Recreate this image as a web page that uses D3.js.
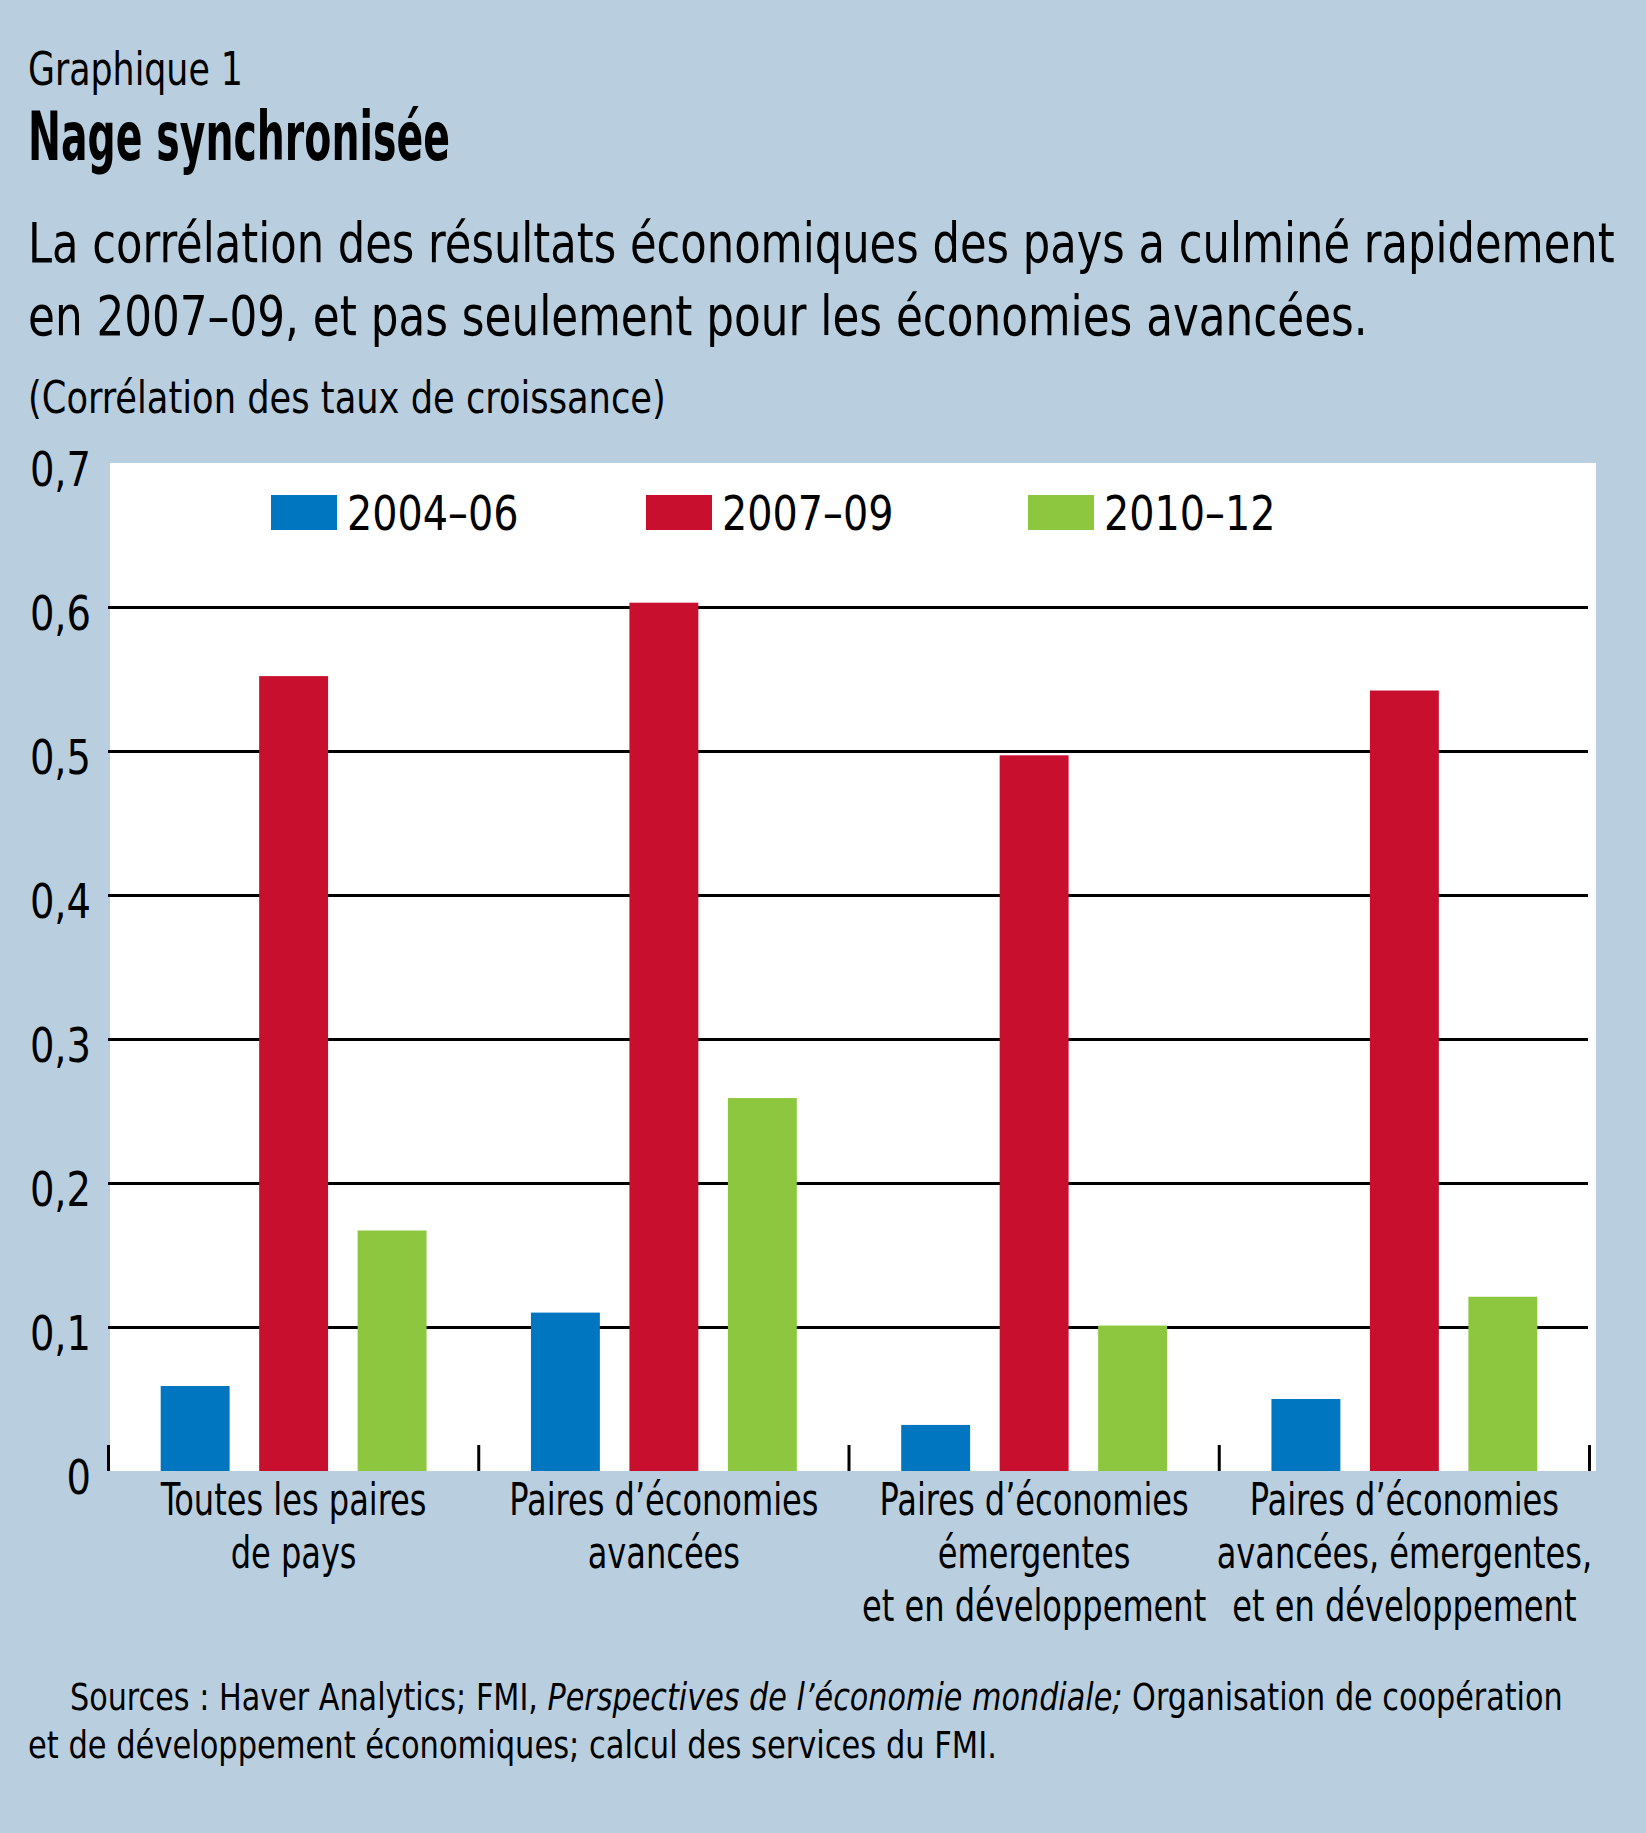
<!DOCTYPE html>
<html>
<head>
<meta charset="utf-8">
<script src="https://cdnjs.cloudflare.com/ajax/libs/d3/7.8.5/d3.min.js"></script>
<style>
  body { margin: 0; background: #b9cfdf; }
  svg { display: block; }
  text { font-family: 'Liberation Sans Narrow', 'DejaVu Sans Condensed', 'Arial Narrow', sans-serif; fill: #000; }
</style>
</head>
<body>
<div id="chart"></div>
<script>
// data
var categories = ["Toutes les paires de pays", "Paires d’économies avancées",
  "Paires d’économies émergentes et en développement",
  "Paires d’économies avancées, émergentes, et en développement"];
var categoryLines = [
  ["Toutes les paires", "de pays"],
  ["Paires d’économies", "avancées"],
  ["Paires d’économies", "émergentes", "et en développement"],
  ["Paires d’économies", "avancées, émergentes,", "et en développement"]
];
var series = ["2004–06", "2007–09", "2010–12"];
var values0406 = [0.059, 0.110, 0.032, 0.050];
var values0709 = [0.552, 0.603, 0.497, 0.542];
var values1012 = [0.167, 0.259, 0.101, 0.121];
var yTicks = [0, 0.1, 0.2, 0.3, 0.4, 0.5, 0.6, 0.7];
var gridTicks = [0.1, 0.2, 0.3, 0.4, 0.5, 0.6];
var colors = ["#0076c0", "#c8102e", "#8dc63f"];

var width = 1646, height = 1833;
var plot = {left: 110, right: 1596, top: 463, bottom: 1471}; // white panel
var narrow = 0.81; // the original face is much more condensed

var svg = d3.select('#chart')
  .append('svg')
  .attr('width', width)
  .attr('height', height);

svg.append('rect')
  .attr('width', width)
  .attr('height', height)
  .attr('fill', '#b9cfdf');

// squeeze a text horizontally so it spans w pixels from x
function fitText(t, x, y, w){
  var n = t.node().getComputedTextLength();
  t.attr('transform', 'translate(' + x + ',' + y + ') scale(' + (w / n) + ',1)');
  return t;
}

// headings
fitText(svg.append('text').attr('font-size', 47).text('Graphique 1'), 28, 85, 215);
fitText(svg.append('text').attr('font-size', 68).attr('font-weight', 'bold')
  .text('Nage synchronisée'), 28, 160, 422);
fitText(svg.append('text').attr('font-size', 56)
  .text('La corrélation des résultats économiques des pays a culminé rapidement'), 28, 262, 1587);
fitText(svg.append('text').attr('font-size', 56)
  .text('en 2007–09, et pas seulement pour les économies avancées.'), 28, 335, 1340);
fitText(svg.append('text').attr('font-size', 44)
  .text('(Corrélation des taux de croissance)'), 28, 413, 638);

svg.append('rect')
  .attr('x', plot.left).attr('y', plot.top)
  .attr('width', plot.right - plot.left)
  .attr('height', plot.bottom - plot.top)
  .attr('fill', '#fff');

var y = d3.scaleLinear().domain([0, 0.7]).range([plot.bottom, plot.top]);

var x0 = d3.scaleBand().domain(categories).range([108.5, 1589.5]).padding(0);
var x1 = d3.scaleBand().domain(series).range([0, x0.bandwidth()])
  .paddingInner(0.3).paddingOuter(0.53);

// gridlines
var grid = svg.append('g')
  .attr('transform', 'translate(108,0)')
  .call(d3.axisRight(y).tickValues(gridTicks).tickSize(1480).tickFormat(''));
grid.select('.domain').remove();
grid.selectAll('line').attr('stroke', '#000').attr('stroke-width', 3);

// y labels
var yAxis = svg.append('g')
  .attr('transform', 'translate(91,0)')
  .call(d3.axisLeft(y).tickValues(yTicks).tickSize(0).tickPadding(0)
    .tickFormat(function(d){ return d === 0 ? '0' : d3.format('.1f')(d).replace('.', ','); }));
yAxis.select('.domain').remove();
yAxis.selectAll('text')
  .attr('font-size', 48)
  .attr('font-family', null)
  .attr('x', 0)
  .attr('dy', '0.38em')
  .attr('transform', 'translate(0,4) scale(0.89,1)');

// bars
var rows = categories.map(function(c, i){
  return {cat: c, vals: [values0406[i], values0709[i], values1012[i]]};
});

var groups = svg.selectAll('g.group')
  .data(rows)
  .enter()
  .append('g')
  .attr('class', 'group')
  .attr('transform', function(d){ return 'translate(' + x0(d.cat) + ',0)'; });

groups.selectAll('rect')
  .data(function(d){
    return d.vals.map(function(v, j){ return {key: series[j], value: v, color: colors[j]}; });
  })
  .enter()
  .append('rect')
  .attr('x', function(d){ return x1(d.key); })
  .attr('width', x1.bandwidth())
  .attr('y', function(d){ return y(d.value); })
  .attr('height', function(d){ return y(0) - y(d.value); })
  .attr('fill', function(d){ return d.color; });

// category separators
var edges = categories.map(function(c){ return x0(c); }).concat([x0(categories[3]) + x0.bandwidth()]);
svg.selectAll('line.sep')
  .data(edges)
  .enter()
  .append('line')
  .attr('class', 'sep')
  .attr('x1', function(d){ return d; })
  .attr('x2', function(d){ return d; })
  .attr('y1', plot.bottom - 26)
  .attr('y2', plot.bottom)
  .attr('stroke', '#000')
  .attr('stroke-width', 3);

// category labels
var xAxis = svg.append('g')
  .attr('transform', 'translate(0,' + plot.bottom + ')')
  .call(d3.axisBottom(x0).tickSize(0).tickFormat(''));
xAxis.select('.domain').remove();
xAxis.selectAll('.tick').each(function(d, i){
  var t = d3.select(this).append('text')
    .attr('text-anchor', 'middle')
    .attr('font-size', 44)
    .attr('transform', 'translate(0,44) scale(' + narrow + ',1)');
  categoryLines[i].forEach(function(line, k){
    t.append('tspan').attr('x', 0).attr('dy', k === 0 ? 0 : 53).text(line);
  });
});

// legend
var legendX = [271, 646, 1028];
var legend = svg.selectAll('g.legend')
  .data(series)
  .enter()
  .append('g')
  .attr('class', 'legend')
  .attr('transform', function(d, i){ return 'translate(' + legendX[i] + ',495)'; });
legend.append('rect')
  .attr('width', 66).attr('height', 35)
  .attr('fill', function(d, i){ return colors[i]; });
legend.append('text')
  .attr('font-size', 48)
  .attr('transform', 'translate(76,35) scale(0.92,1)')
  .text(function(d){ return d; });

// sources
var src = svg.append('text').attr('font-size', 37);
src.append('tspan').text('Sources : Haver Analytics; FMI, ');
src.append('tspan').attr('font-style', 'italic').text('Perspectives de l’économie mondiale;');
src.append('tspan').text(' Organisation de coopération');
fitText(src, 70, 1710, 1493);
fitText(svg.append('text').attr('font-size', 37)
  .text('et de développement économiques; calcul des services du FMI.'), 28, 1758, 969);
</script>
</body>
</html>
